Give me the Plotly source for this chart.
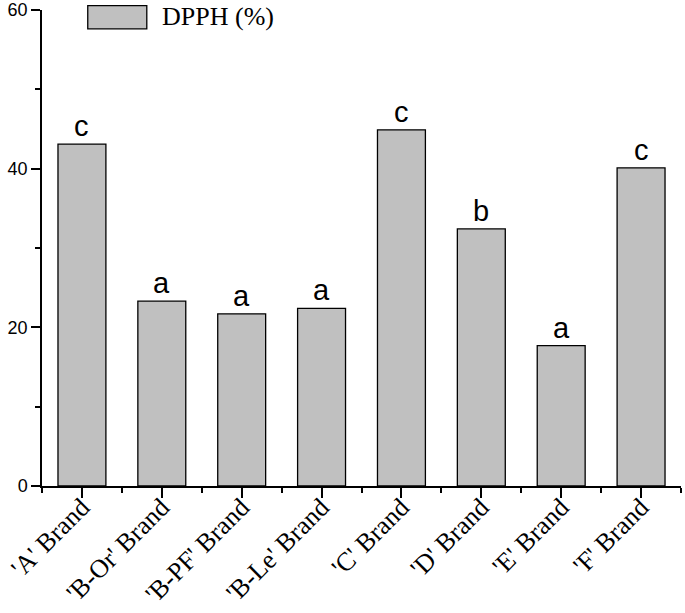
import plotly.graph_objects as go

categories = ["'A' Brand", "'B-Or' Brand", "'B-PF' Brand", "'B-Le' Brand",
              "'C' Brand", "'D' Brand", "'E' Brand", "'F' Brand"]
dpph = [43.1, 23.3, 21.7, 22.4, 44.9, 32.4, 17.7, 40.1]
letters = ["c", "a", "a", "a", "c", "b", "a", "c"]
y_ticks = [0, 20, 40, 60]

x_idx = list(range(len(categories)))

fig = go.Figure()
fig.add_trace(go.Bar(
    x=x_idx, y=dpph, width=0.6, name="DPPH (%)",
    marker=dict(color="#c0c0c0", line=dict(color="#000000", width=1.3)),
    showlegend=False,
))

for xi, v, l in zip(x_idx, dpph, letters):
    fig.add_annotation(x=xi, y=v, text=l, showarrow=False, xref="x", yref="y",
                       yanchor="bottom", yshift=0,
                       font=dict(family="Liberation Sans, Arial", size=29, color="#000"))

# legend drawn as a box + text
fig.add_shape(type="rect", xref="paper", yref="paper",
              x0=0.0716, x1=0.164, y0=0.9605, y1=1.009,
              fillcolor="#c0c0c0", line=dict(color="#000", width=1.3))
fig.add_annotation(xref="paper", yref="paper", x=0.184, y=0.9857, text="DPPH (%)",
                   showarrow=False, xanchor="left", yanchor="middle",
                   font=dict(family="Liberation Serif, Times New Roman", size=26, color="#000"))

fig.update_layout(
    width=685, height=613,
    margin=dict(l=42, r=4, t=10, b=127, autoexpand=False),
    paper_bgcolor="white", plot_bgcolor="white",
    bargap=0.4,
)
fig.update_xaxes(
    range=[-0.5, 7.5], tickmode="array", tickvals=x_idx, ticktext=categories,
    tickangle=-45, ticks="outside", ticklen=10, tickwidth=1.5, tickcolor="#000",
    showline=True, linecolor="#000", linewidth=1.5, showgrid=False, zeroline=False,
    automargin=False, ticklabelstandoff=-16, ticklabeloverflow="allow",
    tickfont=dict(family="Liberation Serif, Times New Roman", size=26, color="#000"),
    minor=dict(tickvals=[i - 0.5 for i in range(len(categories) + 1)], ticks="outside",
               ticklen=5, tickwidth=1.5, tickcolor="#000", showgrid=False),
)
fig.update_yaxes(
    range=[0, 60], tickmode="array", tickvals=y_ticks,
    ticks="outside", ticklen=9, tickwidth=1.5, tickcolor="#000",
    showline=True, linecolor="#000", linewidth=1.5, showgrid=False, zeroline=False,
    automargin=False, ticklabeloverflow="allow",
    tickfont=dict(family="Liberation Sans, Arial", size=18, color="#000"),
    minor=dict(tickvals=[10, 30, 50], ticks="outside", ticklen=5, tickwidth=1.5,
               tickcolor="#000", showgrid=False),
)

fig.write_html("out.html", config={"displayModeBar": False},
               post_script="document.body.style.margin='0';")
